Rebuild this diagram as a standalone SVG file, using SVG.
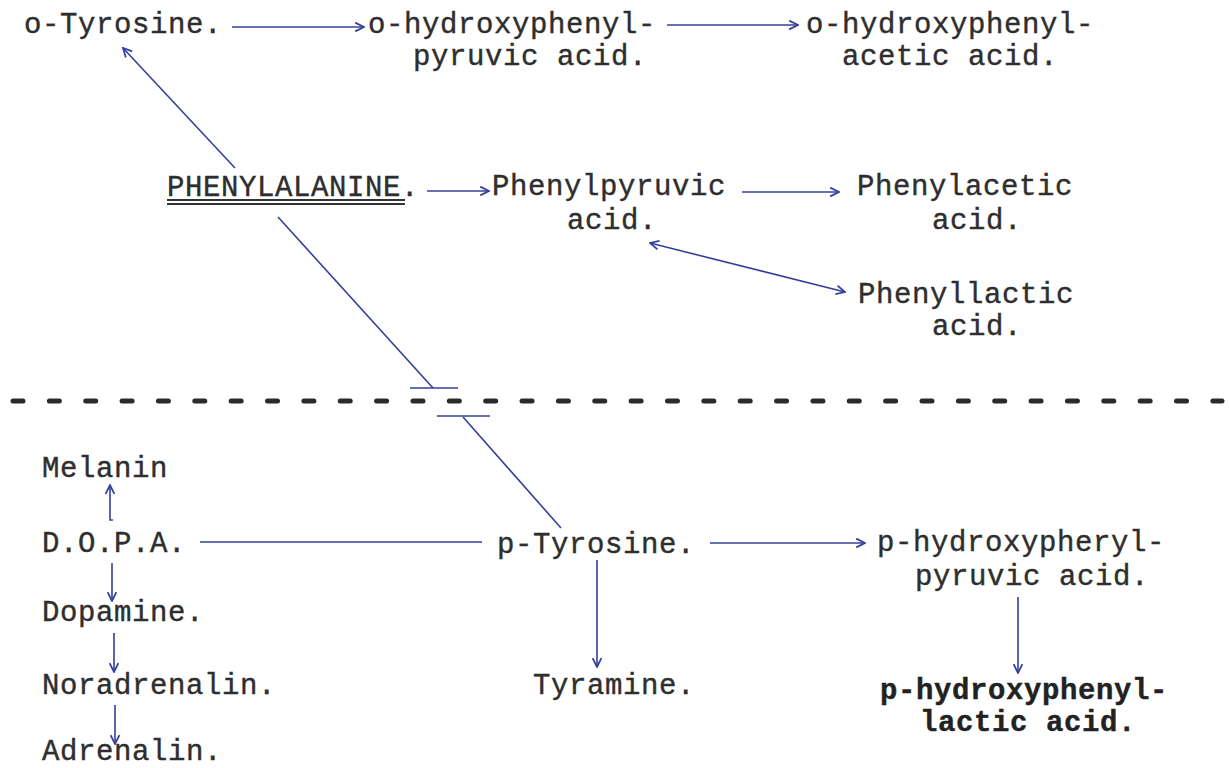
<svg xmlns="http://www.w3.org/2000/svg" width="1229" height="768" viewBox="0 0 1229 768">
  <defs>
    <style>
      .t { font-family: "Liberation Mono", "Courier New", monospace; font-size: 29px; letter-spacing: 0.6px; fill: #2e2e2e; stroke: #2e2e2e; stroke-width: 0.4; }
      .b { font-weight: bold; fill: #222; stroke: #222; }
      .c { fill: none; stroke: #34409a; stroke-width: 1.6; }
      .dash { fill: none; stroke: #2b2b2b; stroke-width: 5; stroke-linecap: round; stroke-dasharray: 10 26.36; }
    </style>
    <marker id="arr" viewBox="0 0 10 10" refX="9" refY="5" markerWidth="11" markerHeight="11" markerUnits="userSpaceOnUse" orient="auto-start-reverse">
      <path d="M1,1 L9,5 L1,9" fill="none" stroke="#34409a" stroke-width="1.6"/>
    </marker>
  </defs>
  <rect width="1229" height="768" fill="#fff"/>

  <!-- divider -->
  <line class="dash" x1="13" y1="401" x2="1222" y2="401"/>

  <g id="connectors">
    <line class="c" x1="232" y1="27" x2="364" y2="27" marker-end="url(#arr)"/>
    <line class="c" x1="667" y1="25" x2="798" y2="25" marker-end="url(#arr)"/>
    <line class="c" x1="235" y1="168" x2="123" y2="48" marker-end="url(#arr)"/>
    <line class="c" x1="427" y1="191" x2="489" y2="191" marker-end="url(#arr)"/>
    <line class="c" x1="742" y1="192" x2="839" y2="192" marker-end="url(#arr)"/>
    <line class="c" x1="650" y1="243" x2="845" y2="292" marker-start="url(#arr)" marker-end="url(#arr)"/>
    <!-- interrupted path across the divider -->
    <line class="c" x1="278" y1="217" x2="433" y2="388"/>
    <line class="c" x1="410" y1="388" x2="458" y2="388"/>
    <line class="c" x1="437" y1="416" x2="490" y2="416"/>
    <line class="c" x1="463" y1="417" x2="561" y2="528"/>
    <!-- lower pathways -->
    <line class="c" x1="200" y1="542" x2="482" y2="542"/>
    <line class="c" x1="710" y1="543" x2="865" y2="543" marker-end="url(#arr)"/>
    <line class="c" x1="597" y1="560" x2="597" y2="667" marker-end="url(#arr)"/>
    <line class="c" x1="1018" y1="597" x2="1018" y2="673" marker-end="url(#arr)"/>
    <polyline class="c" points="113,520 110,520 110,485" marker-end="url(#arr)"/>
    <line class="c" x1="112" y1="563" x2="112" y2="601" marker-end="url(#arr)"/>
    <line class="c" x1="114" y1="633" x2="114" y2="672" marker-end="url(#arr)"/>
    <line class="c" x1="115" y1="705" x2="115" y2="744" marker-end="url(#arr)"/>
  </g>

  <g id="o-tyrosine"><text class="t" x="24" y="33">o-Tyrosine.</text></g>
  <g id="o-hppa"><text class="t" x="368" y="33">o-hydroxyphenyl-</text><text class="t" x="413" y="65">pyruvic acid.</text></g>
  <g id="o-hpaa"><text class="t" x="806" y="33">o-hydroxyphenyl-</text><text class="t" x="842" y="65">acetic acid.</text></g>

  <g id="phenylalanine">
    <text class="t" x="167" y="196">PHENYLALANINE.</text>
    <line x1="167" y1="200" x2="405" y2="200" stroke="#333" stroke-width="2.2"/>
    <line x1="167" y1="204" x2="405" y2="204" stroke="#333" stroke-width="2.2"/>
  </g>
  <g id="phenylpyruvic"><text class="t" x="492" y="195">Phenylpyruvic</text><text class="t" x="567" y="229">acid.</text></g>
  <g id="phenylacetic"><text class="t" x="857" y="195">Phenylacetic</text><text class="t" x="932" y="229">acid.</text></g>
  <g id="phenyllactic"><text class="t" x="858" y="303">Phenyllactic</text><text class="t" x="932" y="335">acid.</text></g>

  <g id="melanin"><text class="t" x="42" y="477">Melanin</text></g>
  <g id="dopa"><text class="t" x="42" y="552">D.O.P.A.</text></g>
  <g id="dopamine"><text class="t" x="42" y="621">Dopamine.</text></g>
  <g id="noradrenalin"><text class="t" x="42" y="694">Noradrenalin.</text></g>
  <g id="adrenalin"><text class="t" x="42" y="760">Adrenalin.</text></g>

  <g id="p-tyrosine"><text class="t" x="497" y="553">p-Tyrosine.</text></g>
  <g id="tyramine"><text class="t" x="533" y="694">Tyramine.</text></g>
  <g id="p-hppa"><text class="t" x="877" y="551">p-hydroxypheryl-</text><text class="t" x="915" y="585">pyruvic acid.</text></g>
  <g id="p-hpla"><text class="t b" x="880" y="699">p-hydroxyphenyl-</text><text class="t b" x="920" y="731">lactic acid.</text></g>
</svg>
